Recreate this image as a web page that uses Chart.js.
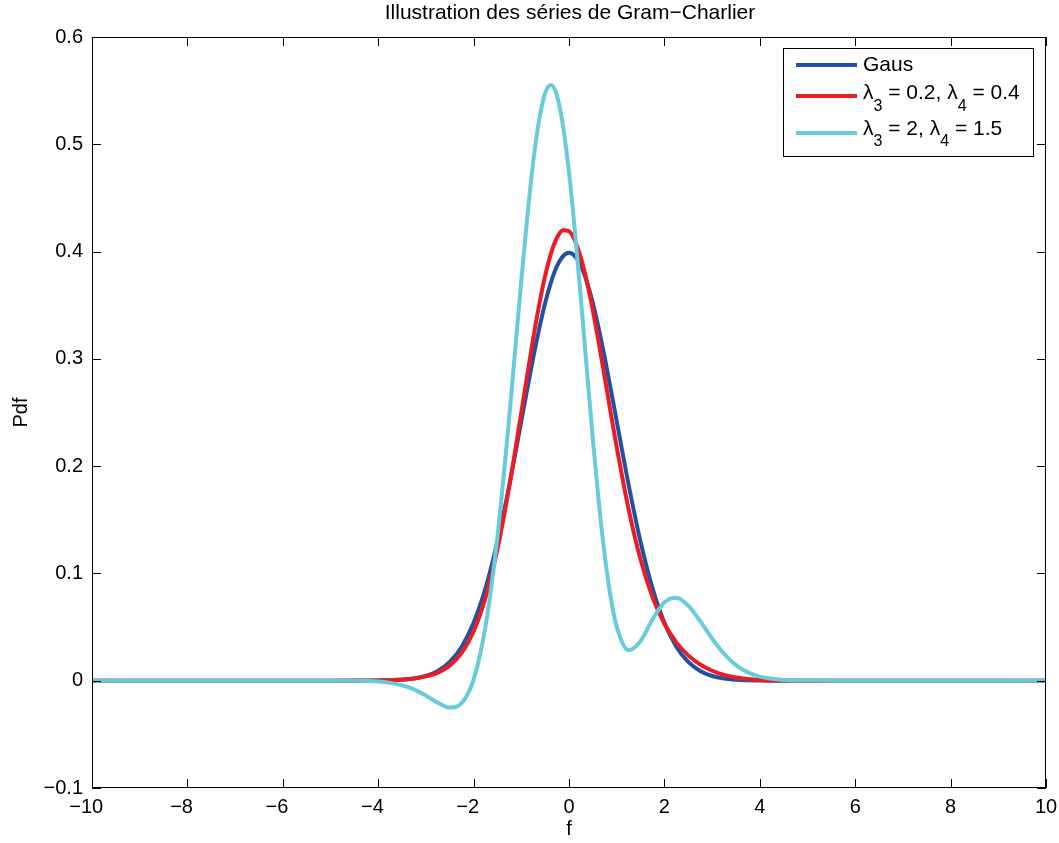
<!DOCTYPE html>
<html>
<head>
<meta charset="utf-8">
<script src="https://cdn.jsdelivr.net/npm/chart.js@4/dist/chart.umd.min.js"></script>
<style>
    html, body { margin: 0; padding: 0; background: #fff; }
</style>
</head>
<body>
<canvas id="chart" width="1059" height="843"></canvas>
<script>
// values
const f_values = [-10, -8, -6, -5, -4.5, -4, -3.75, -3.5, -3.25, -3, -2.75, -2.5, -2.25, -2, -1.75, -1.5, -1.25, -1,
    -0.875, -0.75, -0.625, -0.5, -0.375, -0.25, -0.125, 0, 0.125, 0.25, 0.375, 0.5, 0.625, 0.75, 0.875,
    1, 1.25, 1.5, 1.75, 2, 2.25, 2.5, 2.75, 3, 3.25, 3.5, 3.75, 4, 4.5, 5, 6, 8, 10]

const gaus = [0, 0, 0, 0, 0, 0.0001, 0.0004, 0.0009, 0.0020, 0.0044, 0.0091, 0.0175, 0.0317, 0.0540, 0.0863, 0.1295, 0.1826, 0.2420,
    0.2717, 0.3011, 0.3280, 0.3521, 0.3718, 0.3867, 0.3958, 0.3989, 0.3958, 0.3867, 0.3718, 0.3521, 0.3280, 0.3011, 0.2717,
    0.2420, 0.1826, 0.1295, 0.0863, 0.0540, 0.0317, 0.0175, 0.0091, 0.0044, 0.0020, 0.0009, 0.0004, 0.0001, 0, 0, 0, 0, 0]

const gc_small = [0, 0, 0, 0, 0.0001, 0.0003, 0.0005, 0.0011, 0.0021, 0.0040, 0.0075, 0.0141, 0.0259, 0.0459, 0.0773, 0.1226, 0.1816, 0.2500,
    0.2848, 0.3192, 0.3503, 0.3774, 0.3986, 0.4131, 0.4199, 0.4189, 0.4101, 0.3941, 0.3720, 0.3451, 0.3146, 0.2825, 0.2494,
    0.2178, 0.1597, 0.1129, 0.0780, 0.0531, 0.0357, 0.0236, 0.0151, 0.0093, 0.0054, 0.0030, 0.0015, 0.0007, 0.0001, 0, 0, 0, 0]

const gc_large = [0, 0, 0, 0, -0.0001, -0.0008, -0.0020, -0.0042, -0.0081, -0.0139, -0.0205, -0.0250, -0.0208, 0.0011, 0.0508, 0.1341, 0.2471, 0.3730,
    0.4316, 0.4835, 0.5229, 0.5478, 0.5553, 0.5449, 0.5170, 0.4737, 0.4185, 0.3556, 0.2895, 0.2251, 0.1663, 0.1165, 0.0775,
    0.0504, 0.0284, 0.0369, 0.0571, 0.0731, 0.0774, 0.0700, 0.0556, 0.0393, 0.0251, 0.0146, 0.0078, 0.0038, 0.0007, 0.0001, 0, 0, 0]

const x_ticks = [-10, -8, -6, -4, -2, 0, 2, 4, 6, 8, 10]
const y_ticks = [-0.1, 0, 0.1, 0.2, 0.3, 0.4, 0.5, 0.6]

// '_n' marks a subscript in the legend text
const legend_labels = ['Gaus', 'λ_3 = 0.2, λ_4 = 0.4', 'λ_3 = 2, λ_4 = 1.5']
const line_colors = ['#2251a3', '#ec1c24', '#68cbdc']

const title_text = 'Illustration des séries de Gram−Charlier'
const x_title = 'f'
const y_title = 'Pdf'

const FONT = '"Liberation Sans", Arial, sans-serif'
const MINUS = '\u2212'

function to_points(values) {
    return values.map((v, i) => ({ x: f_values[i], y: v }))
}

function fmt_tick(v) {
    if (Math.abs(v) < 1e-9) return '0'
    const s = Number.isInteger(v) ? String(v) : v.toFixed(1)
    return s.replace('-', MINUS)
}

const series = [gaus, gc_small, gc_large].map((values, i) => ({
    label: legend_labels[i].replace(/_3/g, '₃').replace(/_4/g, '₄'),
    data: to_points(values),
    borderColor: line_colors[i],
    borderWidth: 4,
    pointRadius: 0,
    cubicInterpolationMode: 'monotone',
    borderCapStyle: 'round',
    borderJoinStyle: 'round',
    order: 3 - i, // later series on top, as in the reference
}))

function draw_sub_text(ctx, text, x, y, size) {
    // draws "λ_3 = ..." with real subscripts
    const parts = text.split(/_(\d)/)
    let cx = x
    parts.forEach((part, i) => {
        if (i % 2 === 1) {
            ctx.font = `${Math.round(size * 0.78)}px ${FONT}`
            ctx.fillText(part, cx, y + size * 0.6)
        } else {
            ctx.font = `${size}px ${FONT}`
            ctx.fillText(part, cx, y)
        }
        cx += ctx.measureText(part).width
    })
}

const matlab_frame = {
    id: 'matlab_frame',
    afterDatasetsDraw(chart) {
        const { ctx } = chart
        // legend box, rows are not evenly spaced in the reference (subscripts make rows taller)
        const box = { left: 783, top: 48, width: 250, height: 108 }
        const line_ys = [65, 96, 133]
        const text_ys = [65.5, 93.5, 129]
        ctx.save()
        ctx.fillStyle = '#fff'
        ctx.fillRect(box.left, box.top, box.width, box.height)
        ctx.strokeStyle = '#000'
        ctx.lineWidth = 1
        ctx.strokeRect(box.left + 0.5, box.top + 0.5, box.width, box.height)
        legend_labels.forEach((label, i) => {
            ctx.strokeStyle = line_colors[i]
            ctx.lineWidth = 4
            ctx.beginPath()
            ctx.moveTo(box.left + 13, line_ys[i])
            ctx.lineTo(box.left + 74, line_ys[i])
            ctx.stroke()
            ctx.fillStyle = '#000'
            ctx.textBaseline = 'middle'
            ctx.textAlign = 'left'
            draw_sub_text(ctx, label, box.left + 80, text_ys[i], 21)
        })
        ctx.restore()
    },
    afterDraw(chart) {
        const { ctx, chartArea: a, scales } = chart
        ctx.save()
        ctx.strokeStyle = '#000'
        ctx.lineWidth = 1
        ctx.strokeRect(a.left + 0.5, a.top + 0.5, a.right - a.left - 1, a.bottom - a.top - 1)

        // inward ticks on all four sides
        const tick = 9
        ctx.beginPath()
        x_ticks.forEach(v => {
            const px = Math.round(scales.x.getPixelForValue(v)) + 0.5
            ctx.moveTo(px, a.bottom); ctx.lineTo(px, a.bottom - tick)
            ctx.moveTo(px, a.top); ctx.lineTo(px, a.top + tick)
        })
        y_ticks.forEach(v => {
            const py = Math.round(scales.y.getPixelForValue(v)) + 0.5
            ctx.moveTo(a.left, py); ctx.lineTo(a.left + tick, py)
            ctx.moveTo(a.right, py); ctx.lineTo(a.right - tick, py)
        })
        ctx.stroke()

        // x tick labels: digits centred on the tick, minus hanging to the left (MATLAB style)
        ctx.fillStyle = '#000'
        ctx.textBaseline = 'middle'
        ctx.font = `20px ${FONT}`
        x_ticks.forEach(v => {
            const px = scales.x.getPixelForValue(v)
            const digits = String(Math.abs(v))
            ctx.textAlign = 'center'
            ctx.fillText(digits, px, 807)
            if (v < 0) {
                ctx.textAlign = 'right'
                ctx.fillText(MINUS, px - ctx.measureText(digits).width / 2, 807)
            }
        })

        // title and axis titles
        ctx.textAlign = 'center'
        ctx.font = `21px ${FONT}`
        ctx.fillText(title_text, (a.left + a.right) / 2 + 1, 13)
        ctx.font = `20px ${FONT}`
        ctx.fillText(x_title, (a.left + a.right) / 2, 829)
        ctx.translate(21, (a.top + a.bottom) / 2)
        ctx.rotate(-Math.PI / 2)
        ctx.fillText(y_title, 0, 0)
        ctx.restore()
    }
}

new Chart(document.getElementById('chart'), {
    type: 'line',
    data: { datasets: series },
    options: {
        responsive: false,
        animation: false,
        devicePixelRatio: 1,
        layout: { padding: { top: 37, right: 13, left: 0, bottom: 0 } },
        plugins: {
            legend: { display: false },
            tooltip: { enabled: false },
            title: { display: false },
        },
        scales: {
            x: {
                type: 'linear',
                min: -10,
                max: 10,
                grid: { display: false, drawTicks: false },
                border: { display: false },
                afterBuildTicks: scale => { scale.ticks = x_ticks.map(v => ({ value: v })) },
                afterFit: scale => { scale.height = 55 },
                ticks: { display: false },
            },
            y: {
                type: 'linear',
                min: -0.1,
                max: 0.6,
                grid: { display: false, drawTicks: false },
                border: { display: false },
                afterBuildTicks: scale => { scale.ticks = y_ticks.map(v => ({ value: v })) },
                afterFit: scale => { scale.width = 92 },
                ticks: {
                    color: '#000',
                    font: { family: FONT, size: 20 },
                    padding: 9,
                    autoSkip: false,
                    callback: v => fmt_tick(v),
                },
            },
        },
    },
    plugins: [matlab_frame],
})
</script>
</body>
</html>
